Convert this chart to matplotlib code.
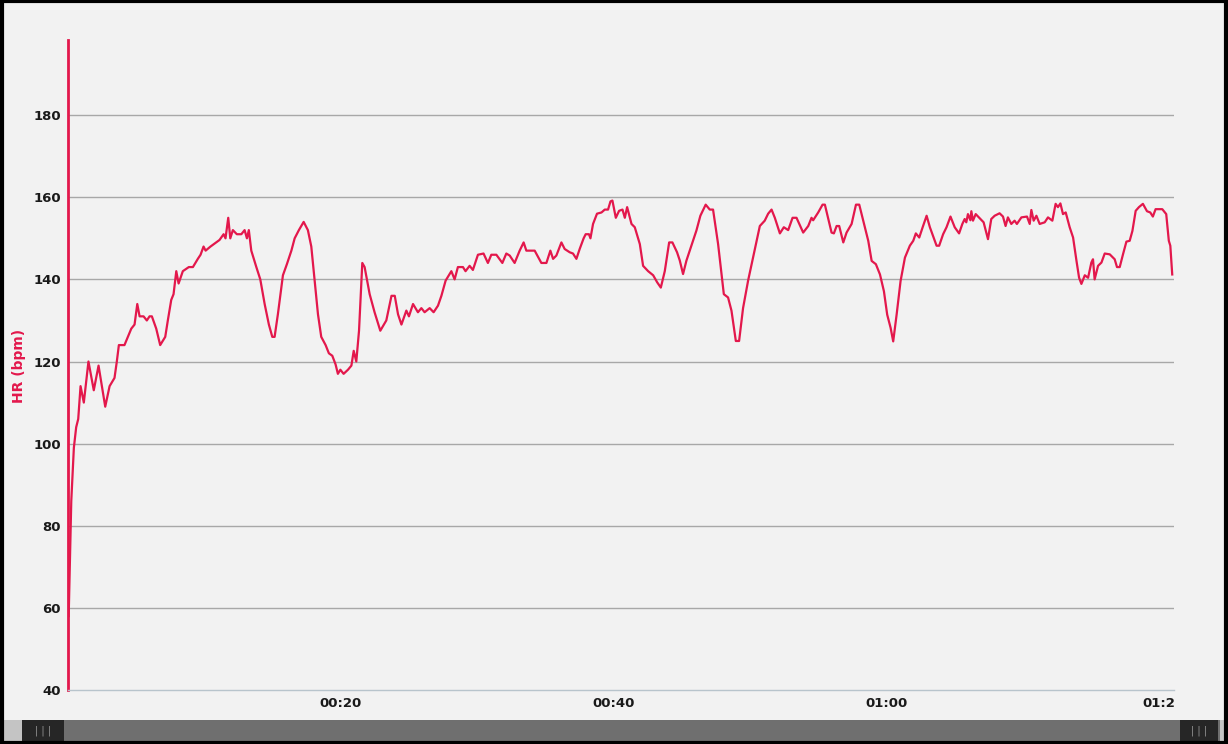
import matplotlib
matplotlib.use('Agg')
import matplotlib.pyplot as plt
from matplotlib.patches import Rectangle

# elapsed time in minutes and heart rate in bpm
minutes = [
    0.05, 0.24, 0.43, 0.60, 0.75, 0.92, 1.16, 1.50, 1.89, 2.24, 2.73, 3.05, 3.41, 3.58, 3.73,
    4.14, 4.39, 4.64, 4.88, 5.08, 5.25, 5.54, 5.78, 5.98, 6.15, 6.47, 6.76, 7.13, 7.32, 7.57,
    7.74, 7.94, 8.11, 8.42, 8.86, 9.16, 9.52, 9.72, 9.94, 10.09, 10.45, 10.87, 11.11, 11.41,
    11.55, 11.75, 11.90, 12.09, 12.38, 12.71, 12.95, 13.12, 13.26, 13.44, 13.81, 14.10, 14.42,
    14.73, 14.98, 15.15, 15.39, 15.76, 16.05, 16.38, 16.62, 16.93, 17.28, 17.59, 17.84, 18.08,
    18.33, 18.57, 18.89, 19.13, 19.38, 19.62, 19.79, 19.97, 20.21, 20.53, 20.78, 20.95, 21.14,
    21.34, 21.58, 21.75, 22.12, 22.48, 22.90, 23.34, 23.72, 23.96, 24.20, 24.45, 24.81, 25.00,
    25.30, 25.66, 25.91, 26.15, 26.52, 26.81, 27.13, 27.38, 27.69, 28.11, 28.35, 28.59, 28.96,
    29.15, 29.45, 29.69, 30.06, 30.47, 30.79, 31.04, 31.41, 31.85, 32.14, 32.39, 32.75, 33.12,
    33.41, 33.61, 34.22, 34.71, 35.08, 35.37, 35.57, 35.81, 36.18, 36.42, 36.79, 37.03, 37.28,
    37.52, 37.81, 37.96, 38.20, 38.31, 38.50, 38.79, 39.12, 39.36, 39.60, 39.78, 39.92, 40.17,
    40.41, 40.66, 40.83, 41.00, 41.32, 41.56, 41.93, 42.17, 42.54, 42.91, 43.20, 43.47, 43.76,
    44.08, 44.32, 44.66, 44.86, 45.10, 45.35, 45.71, 46.08, 46.37, 46.76, 47.06, 47.30, 47.67,
    48.09, 48.40, 48.65, 48.97, 49.21, 49.50, 49.87, 50.24, 50.73, 51.09, 51.34, 51.59, 51.83,
    52.20, 52.49, 52.81, 53.13, 53.42, 53.91, 54.28, 54.52, 54.64, 55.01, 55.33, 55.50, 55.99,
    56.16, 56.36, 56.55, 56.85, 57.09, 57.46, 57.78, 58.02, 58.31, 58.68, 58.93, 59.24, 59.54,
    59.83, 60.07, 60.32, 60.51, 60.76, 61.05, 61.37, 61.73, 61.98, 62.17, 62.42, 62.67, 62.96,
    63.20, 63.69, 63.88, 64.17, 64.42, 64.71, 65.02, 65.34, 65.58, 65.75, 65.87, 65.99, 66.17,
    66.24, 66.36, 66.56, 66.85, 67.14, 67.46, 67.70, 67.95, 68.31, 68.56, 68.75, 68.92, 69.17,
    69.41, 69.58, 69.91, 70.32, 70.52, 70.64, 70.81, 71.01, 71.25, 71.62, 71.86, 72.18, 72.42,
    72.59, 72.77, 72.96, 73.16, 73.45, 73.70, 73.95, 74.14, 74.31, 74.56, 74.80, 75.04, 75.16,
    75.28, 75.53, 75.78, 76.02, 76.39, 76.75, 76.92, 77.12, 77.36, 77.61, 77.85, 78.05, 78.29,
    78.53, 78.82, 79.12, 79.36, 79.55, 79.75, 80.24, 80.53, 80.72, 80.83, 80.97,
]
heart_rate = [
    58, 86, 99, 104, 106, 114, 110, 120, 113, 119, 109, 114, 116, 120, 124,
    124, 126, 128, 129, 134, 131, 131, 130, 131, 131, 128, 124, 126, 130, 135,
    136.4, 142, 139, 142, 143, 143, 145, 146, 148, 147, 148, 149, 149.6, 151,
    150, 155, 150, 152, 151, 151, 152, 150, 152, 147, 143, 140, 134,
    129, 126, 126, 131.5, 141, 143.7, 147, 150, 152, 154, 152, 148, 140,
    131.5, 126, 124, 122, 121.4, 119.3, 117, 118, 117, 118, 119, 122.6, 120,
    127.5, 144, 143, 136.4, 132, 127.5, 130, 136, 136, 131.5, 129, 132.4, 131,
    134, 132, 133, 132, 133, 132, 133.6, 136, 139.7, 142, 140, 143, 143,
    142, 143.3, 142.3, 146, 146.3, 144, 146, 146, 144, 146.3, 145.8, 144, 147,
    149, 147, 147, 144, 144, 147, 145, 145.8, 149, 147.4, 146.6, 146.3, 145,
    147.4, 150, 151, 151, 150, 153.5, 156, 156.3, 157, 157, 159, 159.2, 155,
    156.7, 157, 155, 157.6, 153.5, 152.7, 148.6, 143.3, 142, 141, 139.3, 138, 142,
    149, 149, 146.6, 144.6, 141.3, 144.6, 148.2, 151.9, 155.5, 158.2, 157, 157, 148.6,
    136.4, 135.6, 132.4, 125, 125, 133, 139.7, 145.4, 153, 154.3, 156, 157, 155,
    151.2, 152.7, 152, 155, 155, 151.4, 153, 155, 154.4, 156.3, 158.2, 158.2, 151.4,
    151.2, 153, 153, 149, 151.4, 153.5, 158.2, 158.2, 154.3, 149.4, 144.5, 143.7, 141.2,
    137.1, 131.4, 128.2, 124.9, 131.4, 139.6, 145.3, 148.2, 149.4, 151.2, 150.2, 152.7, 155.5,
    152.7, 148.2, 148.2, 151, 152.7, 155.3, 152.7, 151.2, 153.5, 154.7, 153.9, 155.9, 154.4,
    156.6, 154.3, 155.9, 154.9, 153.9, 149.8, 154.7, 155.5, 156.1, 155.3, 153, 155.1, 153.5,
    154.3, 153.5, 155.1, 155.3, 153.5, 156.9, 154.3, 155.5, 153.5, 153.9, 155.1, 154.3, 158.4,
    157.6, 158.5, 155.9, 156.3, 152.7, 150.2, 144.5, 140.4, 138.9, 141, 140.4, 144.1, 144.9,
    140, 143.3, 144.1, 146.3, 146.1, 144.9, 143, 143, 146.1, 149.2, 149.4, 151.8, 156.7,
    157.6, 158.4, 156.6, 156.3, 155.3, 157.1, 157.1, 155.9, 149.4, 148.2, 141.2,
]

y_ticks = [40, 60, 80, 100, 120, 140, 160, 180]
x_ticks = [20, 40, 60, 80]
x_tick_labels = ['00:20', '00:40', '01:00', '01:2']

RED = '#e3184c'
BG = '#f2f2f2'

fig = plt.figure(figsize=(12.28, 7.44), dpi=100, facecolor=BG)
ax = fig.add_axes([68 / 1228, 1 - 690 / 744, (1174 - 68) / 1228, (690 - 40) / 744])
ax.set_facecolor(BG)

ax.plot(minutes, heart_rate, color=RED, linewidth=1.6, solid_joinstyle='round', zorder=3)

ax.set_xlim(0, 81.1)
ax.set_ylim(40, 198.3)
ax.set_yticks(y_ticks)
ax.set_xticks(x_ticks)
ax.set_xticklabels(x_tick_labels)

for v in y_ticks[1:]:
    ax.axhline(v, color='#a8a8a8', linewidth=1.0, zorder=1)

for side in ['top', 'right']:
    ax.spines[side].set_visible(False)
ax.spines['left'].set_color(RED)
ax.spines['left'].set_linewidth(2)
ax.spines['bottom'].set_color('#b8c4cc')
ax.spines['bottom'].set_linewidth(1)

ax.tick_params(axis='both', length=0, colors='#1a1a1a', labelsize=9.5)
ax.tick_params(axis='y', pad=5)
ax.tick_params(axis='x', pad=5)
for lbl in ax.get_xticklabels() + ax.get_yticklabels():
    lbl.set_fontweight('bold')

fig.text(19 / 1228, 1 - 366 / 744, 'HR (bpm)', color=RED, rotation=90, fontsize=10,
         fontweight='bold', ha='center', va='center')

# scrollbar strip at the bottom
def px_rect(x0, y0, x1, y1, color):
    fig.patches.append(Rectangle((x0 / 1228, 1 - y1 / 744), (x1 - x0) / 1228, (y1 - y0) / 744,
                                 transform=fig.transFigure, facecolor=color, edgecolor='none'))

px_rect(3, 720, 1225, 741, '#6f6f6f')
px_rect(4, 720, 22, 741, '#c4c4c4')
px_rect(22, 720, 64, 741, '#262626')
px_rect(1180, 720, 1218, 741, '#262626')
px_rect(1220, 720, 1225, 741, '#c4c4c4')
for cx in [43, 1199]:
    fig.text(cx / 1228, 1 - 731 / 744, '| | |', color='#9a9a9a', fontsize=7,
             ha='center', va='center')

# black frame round the whole picture
fig.patches.append(Rectangle((0.0015, 0.002), 0.997, 0.996, transform=fig.transFigure,
                             facecolor='none', edgecolor='black', linewidth=3))

fig.savefig('out.png', dpi=100, facecolor=BG)
